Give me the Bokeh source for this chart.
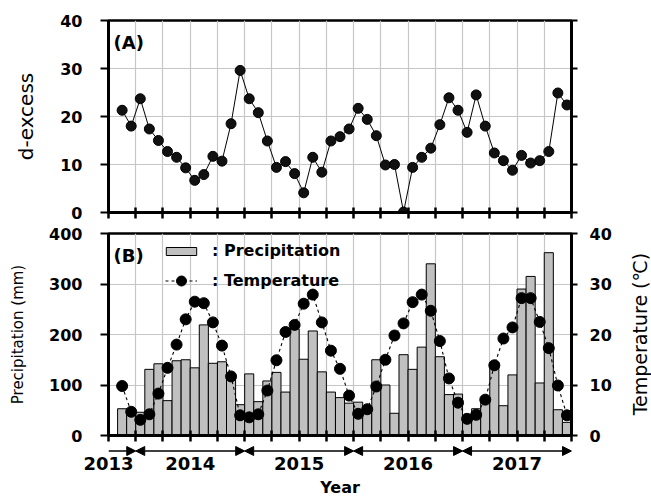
import math
import pandas as pd
from bokeh.plotting import figure
from bokeh.layouts import column, row
from bokeh.models import (Range1d, LinearAxis, FixedTicker, Legend, LegendItem, Label,
                          Arrow, NormalHead, ColumnDataSource, CustomLabelingPolicy,
                          CustomJSTickFormatter)
from bokeh.embed import file_html
from bokeh.resources import INLINE

# ---------------- data ----------------
MONTHS = pd.date_range("2013-11-01", "2017-12-01", freq="MS")
D_EXCESS = [21.3, 18.0, 23.7, 17.4, 15.0, 12.7, 11.5, 9.3, 6.7, 7.9,
            11.7, 10.7, 18.5, 29.6, 23.7, 20.8, 14.9, 9.4, 10.6, 8.1,
            4.1, 11.5, 8.4, 14.9, 15.8, 17.4, 21.7, 19.4, 16.0, 9.9,
            10.0, 0.1, 9.4, 11.5, 13.4, 18.3, 23.9, 21.3, 16.7, 24.5,
            18.0, 12.4, 10.8, 8.8, 11.9, 10.3, 10.8, 12.7, 24.9, 22.4]
PRECIP = [53, 44,
          46, 131, 142, 69, 148, 150, 134, 219, 143, 146, 115, 61,
          122, 67, 108, 125, 86, 211, 151, 207, 126, 86, 75, 64,
          66, 57, 150, 100, 44, 160, 131, 175, 340, 156, 81, 82,
          30, 53, 68, 145, 59, 120, 290, 315, 104, 362, 51, 26]
TEMP = [9.8, 4.7,
        3.1, 4.2, 8.3, 13.4, 18.0, 23.0, 26.5, 26.2, 22.4, 17.8, 11.7, 4.0,
        3.6, 4.2, 8.9, 14.9, 20.5, 21.9, 26.1, 27.9, 22.4, 16.8, 13.2, 7.9,
        4.3, 5.2, 9.7, 15.0, 19.8, 22.2, 26.4, 27.9, 24.7, 18.7, 11.3, 6.5,
        3.3, 4.1, 7.1, 13.9, 19.2, 21.4, 27.2, 27.2, 22.5, 17.3, 9.9, 4.0]
YEARS = [2013, 2014, 2015, 2016, 2017]
D_TICKS = [0, 10, 20, 30, 40]
P_TICKS = [0, 100, 200, 300, 400]
T_TICKS = [0, 10, 20, 30, 40]

# ---------------- helpers ----------------
ORIGIN = pd.Timestamp("2013-10-01")


def month_pos(ts):
    return (ts.year - ORIGIN.year) * 12 + (ts.month - ORIGIN.month)


X_END = month_pos(pd.Timestamp(f"{YEARS[-1] + 1}-01-01"))
xs = [month_pos(m) + 0.5 for m in MONTHS]
year_edges = [0] + [month_pos(pd.Timestamp(f"{y}-01-01")) for y in YEARS[1:]] + [X_END]
quarter_ticks = list(range(0, X_END + 1, 3))

src = ColumnDataSource(dict(x=xs, d=D_EXCESS, p=PRECIP, t=TEMP))

FONT = "DejaVu Sans"
TOTAL_W, TOTAL_H = 651, 501
W_SIDE = 24
W_MAIN = TOTAL_W - W_SIDE
LEFT, RIGHT = 108, 56
GRID = "#c6c6c6"
x_range = Range1d(0, X_END)

NO_LABELS = CustomLabelingPolicy(code="for (const i of indices) { indices.unset(i) }\nreturn indices")


def silent_axis(ax):
    ax.major_label_text_font_size = "1px"
    ax.major_label_standoff = 0
    ax.major_label_policy = NO_LABELS


def style_common(p, yticks):
    p.outline_line_color = "black"
    p.outline_line_width = 2.5
    p.xgrid.ticker = FixedTicker(ticks=quarter_ticks)
    p.ygrid.ticker = FixedTicker(ticks=yticks)
    p.xgrid.grid_line_color = GRID
    p.ygrid.grid_line_color = GRID
    p.xgrid.grid_line_width = 1.2
    p.ygrid.grid_line_width = 1.2
    xa = p.xaxis[0]
    xa.ticker = FixedTicker(ticks=quarter_ticks)
    silent_axis(xa)
    xa.major_tick_in = 5
    xa.major_tick_out = 6
    xa.major_tick_line_width = 2.5
    xa.major_tick_line_color = "black"
    xa.axis_line_width = 3
    xa.axis_line_color = "black"
    xa.minor_tick_line_color = None
    ya = p.yaxis[0]
    ya.ticker = FixedTicker(ticks=yticks)
    ya.major_tick_in = 0
    ya.major_tick_out = 8
    ya.major_tick_line_width = 2
    ya.major_tick_line_color = "black"
    ya.axis_line_width = 3
    ya.axis_line_color = "black"
    ya.minor_tick_line_color = None
    ya.major_label_standoff = 18
    ya.major_label_text_font = FONT
    ya.major_label_text_font_style = "bold"
    ya.major_label_text_font_size = "16px"
    ya.major_label_text_color = "black"
    ya.axis_label_text_font = FONT
    ya.axis_label_text_font_style = "normal"
    ya.axis_label_text_color = "black"


# ---------------- panel A ----------------
p1 = figure(width=W_MAIN, height=222, x_range=x_range, y_range=Range1d(0, 40),
            output_backend="svg", toolbar_location=None,
            min_border_left=LEFT, min_border_right=RIGHT, min_border_top=20, min_border_bottom=10)
style_common(p1, D_TICKS)
p1.yaxis[0].axis_label = "d-excess"
p1.yaxis[0].axis_label_standoff = 19
p1.yaxis[0].axis_label_text_font_size = "20px"
ra1 = LinearAxis(ticker=FixedTicker(ticks=D_TICKS), major_tick_in=0, major_tick_out=6,
                 major_tick_line_width=2, axis_line_width=3, minor_tick_line_color=None)
silent_axis(ra1)
p1.add_layout(ra1, "right")
p1.line("x", "d", source=src, line_color="black", line_width=1)
p1.scatter("x", "d", source=src, size=10, fill_color="#111111", line_color="black")
p1.add_layout(Label(x=5, y=170, x_units="screen", y_units="screen", text="(A)",
                    text_font=FONT, text_font_style="bold", text_font_size="18px",
                    text_baseline="middle", text_color="black"))

# ---------------- panel B ----------------
p2 = figure(width=W_MAIN, height=223, x_range=x_range, y_range=Range1d(0, 400),
            output_backend="svg", toolbar_location=None,
            min_border_left=LEFT, min_border_right=RIGHT, min_border_top=11, min_border_bottom=10)
p2.extra_y_ranges = {"temp": Range1d(0, 40)}
style_common(p2, P_TICKS)
ya2 = p2.yaxis[0]
ya2.axis_label = "Precipitation (mm)"
ya2.axis_label_standoff = 19
ya2.axis_label_text_font_size = "15px"
ra2 = LinearAxis(y_range_name="temp", ticker=FixedTicker(ticks=T_TICKS),
                 major_tick_in=0, major_tick_out=6, major_tick_line_width=2,
                 axis_line_width=3, minor_tick_line_color=None, major_label_standoff=12,
                 major_label_text_font=FONT, major_label_text_font_style="bold",
                 major_label_text_font_size="16px", major_label_text_color="black")
p2.add_layout(ra2, "right")

bars = p2.vbar(x="x", top="p", width=1, source=src, fill_color="#c0c0c0",
               line_color="black", line_width=1)
tline = p2.line("x", "t", source=src, y_range_name="temp", line_color="black",
                line_width=1.1, line_dash="3 3")
tdots = p2.scatter("x", "t", source=src, y_range_name="temp", size=11,
                   fill_color="black", line_color="black")

leg_style = dict(padding=0, margin=0, border_line_alpha=0, background_fill_alpha=0,
                 label_text_font=FONT, label_text_font_style="bold",
                 label_text_font_size="16px", label_text_color="black")
leg1 = Legend(items=[LegendItem(label=": Precipitation", renderers=[bars])],
              location=(54, 175), glyph_width=38, glyph_height=10, label_standoff=12, **leg_style)
leg2 = Legend(items=[LegendItem(label=": Temperature", renderers=[tline, tdots])],
              location=(57, 142), glyph_width=32, glyph_height=25, label_standoff=15, **leg_style)
p2.add_layout(leg1)
p2.add_layout(leg2)
p2.add_layout(Label(x=5, y=180, x_units="screen", y_units="screen", text="(B)",
                    text_font=FONT, text_font_style="bold", text_font_size="18px",
                    text_baseline="middle", text_color="black"))

# ---------------- year row ----------------
p3 = figure(width=W_MAIN, height=TOTAL_H - 222 - 223, x_range=x_range, y_range=Range1d(0, 12),
            output_backend="svg", toolbar_location=None, y_axis_type=None,
            min_border_left=LEFT, min_border_right=RIGHT, min_border_top=0, min_border_bottom=45)
p3.outline_line_color = None
p3.xgrid.visible = False
p3.ygrid.visible = False
ARROW_Y = 6
for i, (a, b) in enumerate(zip(year_edges[:-1], year_edges[1:])):
    start = NormalHead(size=9, fill_color="black", line_color="black") if i > 0 else None
    end = NormalHead(size=9, fill_color="black", line_color="black")
    p3.add_layout(Arrow(x_start=a, y_start=ARROW_Y, x_end=b, y_end=ARROW_Y,
                        start=start, end=end, line_width=1.5, line_color="black"))
# first year span is too narrow for its label: anchor it at the axis start
year_label_pos = [x_range.start] + [(a + b) / 2 for a, b in zip(year_edges[1:-1], year_edges[2:])]
xa3 = p3.xaxis[0]
xa3.ticker = FixedTicker(ticks=year_label_pos)
xa3.formatter = CustomJSTickFormatter(args=dict(labels=[str(y) for y in YEARS]),
                                      code="return labels[index]")
xa3.axis_line_color = None
xa3.major_tick_line_color = None
xa3.minor_tick_line_color = None
xa3.major_tick_in = 0
xa3.major_tick_out = 0
xa3.major_label_standoff = 0
xa3.major_label_text_font = FONT
xa3.major_label_text_font_style = "bold"
xa3.major_label_text_font_size = "18px"
xa3.major_label_text_color = "black"
xa3.axis_label = "Year"
xa3.axis_label_standoff = 5
xa3.axis_label_text_font = FONT
xa3.axis_label_text_font_style = "bold"
xa3.axis_label_text_font_size = "16px"
xa3.axis_label_text_color = "black"

# ---------------- right-hand strip carrying the temperature title ----------------
pr = figure(width=W_SIDE, height=TOTAL_H, x_range=Range1d(0, 1), y_range=Range1d(0, 1),
            output_backend="svg", toolbar_location=None, x_axis_type=None, y_axis_type=None,
            min_border_left=0, min_border_right=0, min_border_top=222,
            min_border_bottom=TOTAL_H - 222 - 223)
pr.outline_line_color = None
pr.xgrid.visible = False
pr.ygrid.visible = False
pr.add_layout(Label(x=W_SIDE / 2, y=223 / 2, x_units="screen", y_units="screen",
                    text="Temperature (\u2103)", angle=math.pi / 2, text_align="center",
                    text_baseline="middle", text_font=FONT, text_font_size="19px",
                    text_color="black"))

layout = row(column(p1, p2, p3, spacing=0), pr, spacing=0)
open("out.html", "w").write(file_html(layout, INLINE))
